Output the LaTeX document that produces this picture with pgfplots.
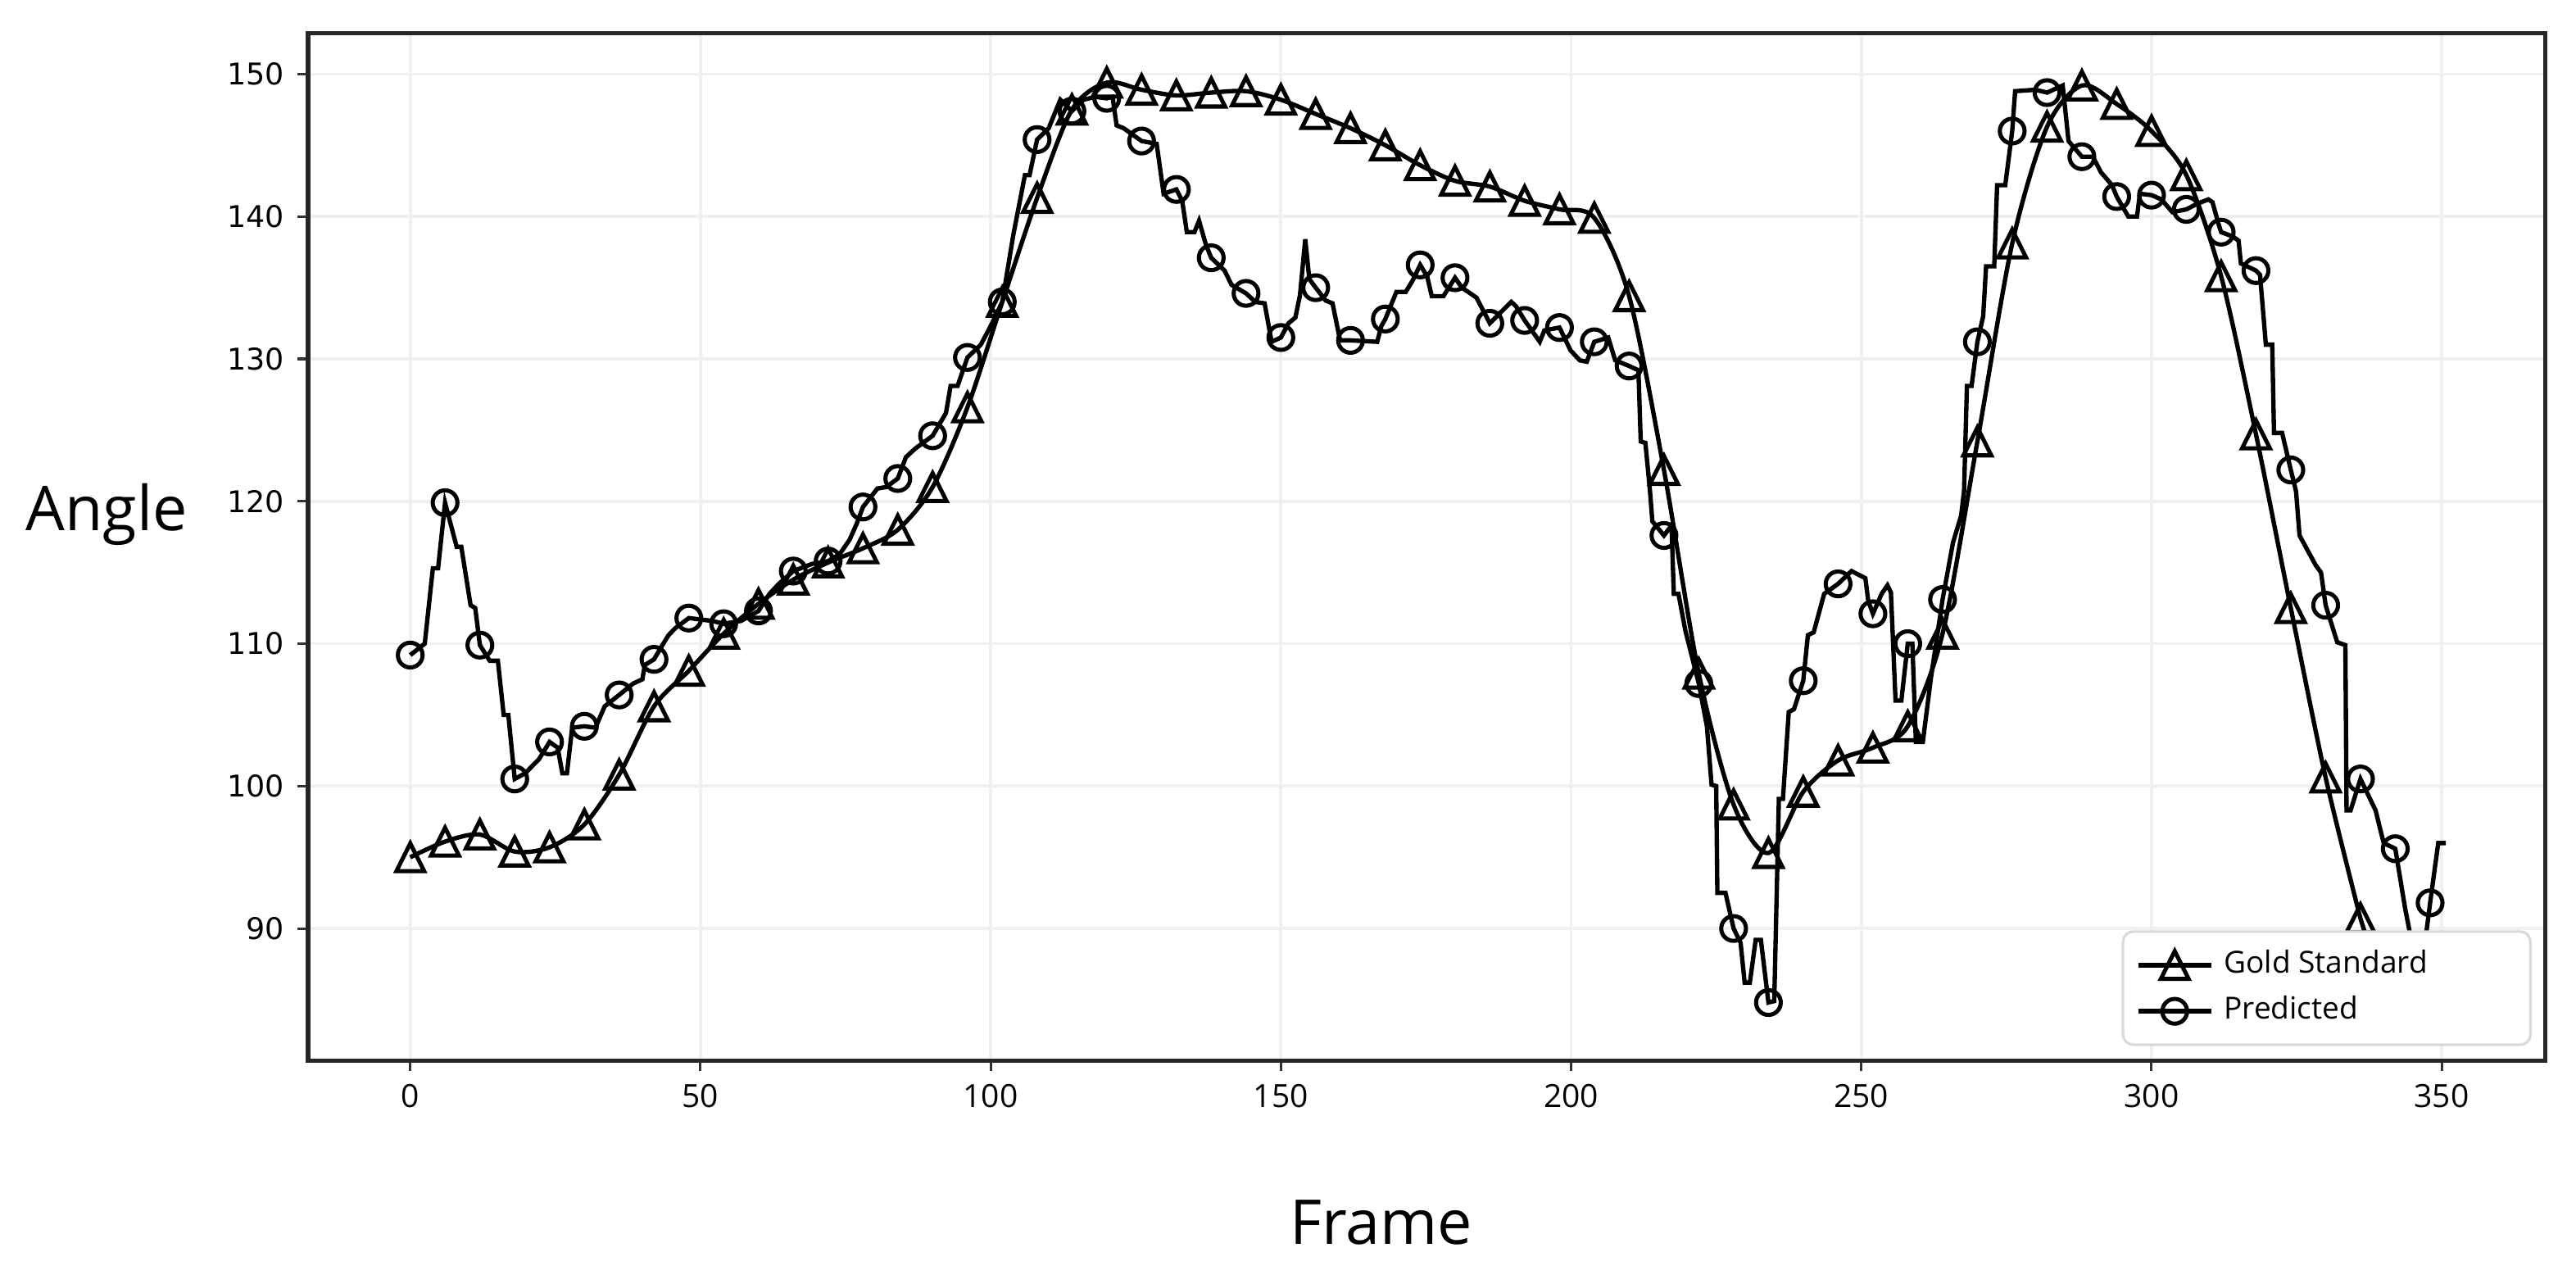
\documentclass[border=0pt]{standalone}
\usepackage{fontspec}
\setmainfont{Open Sans}
\newfontfamily\dejavu{DejaVu Sans}
\usepackage{pgfplots}
\usepackage{pgfplotstable}
\pgfplotsset{compat=1.18}
\pgfdeclareplotmark{mtri}{%
  \pgfpathmoveto{\pgfqpoint{0pt}{\pgfplotmarksize}}%
  \pgfpathlineto{\pgfqpoint{-\pgfplotmarksize}{-\pgfplotmarksize}}%
  \pgfpathlineto{\pgfqpoint{\pgfplotmarksize}{-\pgfplotmarksize}}%
  \pgfpathclose\pgfusepathqstroke}

\pgfplotstableread{
x y
0 95.0
6 96.1
12 96.6
18 95.4
24 95.7
30 97.3
36 100.8
42 105.6
48 108.1
54 110.7
60 112.8
66 114.5
72 115.7
78 116.7
84 118.0
90 121.0
96 126.6
102 134.0
108 141.3
114 147.5
120 149.4
126 148.9
132 148.5
138 148.7
144 148.8
150 148.2
156 147.2
162 146.2
168 145.0
174 143.6
180 142.5
186 142.1
192 141.1
198 140.5
204 139.9
210 134.4
216 122.2
222 107.9
228 98.7
234 95.3
240 99.6
246 101.8
252 102.7
258 104.2
264 110.7
270 124.2
276 138.1
282 146.3
288 149.2
294 147.9
300 146.0
306 142.9
312 135.8
318 124.7
324 112.5
330 100.6
336 90.7
}\gold

\pgfplotstableread{
x y
336 90.7
341 84.2
}\goldtail

\pgfplotstableread{
x y
0 109.2
6 119.9
12 109.9
18 100.5
24 103.1
30 104.2
36 106.4
42 108.9
48 111.8
54 111.4
60 112.3
66 115.1
72 115.8
78 119.6
84 121.6
90 124.6
96 130.1
102 134.0
108 145.4
114 147.4
120 148.3
126 145.3
132 141.9
138 137.1
144 134.6
150 131.5
156 135.0
162 131.3
168 132.8
174 136.6
180 135.7
186 132.5
192 132.7
198 132.2
204 131.2
210 129.5
216 117.6
222 107.2
228 90.0
234 84.8
240 107.4
246 114.2
252 112.1
258 110.0
264 113.1
270 131.2
276 146.0
282 148.7
288 144.2
294 141.4
300 141.5
306 140.5
312 138.9
318 136.2
324 122.2
330 112.7
336 100.5
342 95.6
348 91.8
}\predmarks

\pgfplotstableread{
x y
0 109.2
2.5 110.0
3.9 115.3
4.8 115.3
6 119.9
8 116.8
8.8 116.8
10.4 112.7
11.2 112.5
12 109.9
13.7 108.8
15.1 108.8
16.1 105.0
16.9 105.0
18 100.5
19.8 100.9
22.2 101.9
24 103.1
25.4 102.7
26.2 100.9
27 100.9
27.9 104.1
30 104.2
31.9 104.1
33.5 105.6
36 106.4
38.4 107.2
40 107.5
40.4 108.5
42 108.9
43.3 109.8
44.5 110.6
45.7 111.1
48 111.8
50 111.7
52 111.6
54 111.4
57 111.6
60 112.3
61.9 113.5
63.5 114.2
66 115.1
69.2 115.6
72 115.8
74 116.3
75.7 117.3
76.9 118.4
78 119.6
80.5 120.9
82 121.0
84 121.6
85.4 123.1
87 123.7
90 124.6
92.3 126.2
93.1 128.1
94.3 128.1
96 130.1
98.3 131.0
100 132.3
102 134.0
103.9 138.7
105.9 142.9
106.7 142.9
108 145.4
110 146.2
112 148.2
114 147.4
116 148.2
118 148.4
120 148.3
121 148.4
121.7 146.4
122.9 146.2
126 145.3
128.6 145.1
129.8 141.6
132 141.9
133 141.1
133.8 138.9
135.1 138.9
135.9 139.7
137.1 138.0
138 137.1
140.3 136.2
141.5 135.2
144 134.6
145.6 134.0
147.2 133.9
148.4 131.2
150 131.5
151.3 132.5
152.5 132.9
153.3 134.5
154.2 138.4
154.9 135.6
156 135.0
157.7 134.1
158.9 133.9
160.2 131.3
162 131.3
166.6 131.2
167.3 132.3
168 132.8
169.9 134.7
171.5 134.7
172.7 135.5
174 136.6
175.2 135.8
176 134.4
178 134.4
180 135.7
181.2 135.0
183.7 134.3
186 132.5
187.7 133.2
189.7 134.0
190.5 133.7
192 132.7
193.4 131.9
194.6 131.2
195.4 132.0
198 132.2
199.9 130.6
201.5 129.9
202.7 129.8
204 131.2
206.4 131.5
207.6 129.9
210 129.5
211.6 129.2
212 124.2
212.8 124.1
213.6 120.7
214 118.6
216 117.6
217.3 118.3
217.7 113.5
218.5 113.5
219.7 110.9
222 107.2
223.4 104.2
224.2 100.1
225 100.0
225.2 92.5
226.6 92.5
228 90.0
229.2 89.0
229.9 86.2
230.8 86.2
231.8 89.2
232.7 89.2
234 84.8
235 84.9
235.8 99.1
236.5 99.1
237.5 105.2
238.4 105.4
240 107.4
240.8 110.6
241.8 110.8
243.6 113.5
246 114.2
248.3 115.1
250.7 114.6
251.2 113.0
252 112.1
253.5 113.5
254.5 114.1
255.1 113.6
255.9 106.0
256.9 106.0
258 110.0
258.8 110.0
259.4 103.1
260.6 103.1
262 107.6
264 113.1
265.8 117.1
267.2 119.0
267.7 120.7
268.2 128.1
269 128.1
270 131.2
271 133.0
271.5 136.5
272.9 136.5
273.4 142.2
274.8 142.2
276 146.0
276.5 148.8
280 148.9
282 148.7
284.7 149.2
285.7 145.3
288 144.2
289.9 144.2
291.3 143.1
293.2 142.2
294 141.4
296 140.0
297.5 140.0
298 141.6
300 141.5
301.7 141.2
303.6 140.3
306 140.5
307.9 140.9
309.8 141.2
310.5 141.0
311.6 139.4
312 138.9
314 138.6
315 138.3
315.4 136.7
318 136.2
318.7 135.9
319.7 131.0
320.8 131.0
321.1 124.8
322.5 124.8
324 122.2
324.9 120.7
325.5 117.6
328.3 115.5
329.2 115.0
330 112.7
332 110.1
333.4 109.9
333.6 98.3
334.3 98.3
336 100.5
338.6 98.3
340 96.0
342 95.6
343.7 91.4
344.7 89.3
345.5 87.0
346.5 87.0
348 91.8
349.4 96.0
350.7 96.0
}\predline

\begin{document}
\begin{tikzpicture}
\path[use as bounding box] (-59.8pt,-41.4pt) rectangle (440.2pt,205.9pt);
\begin{axis}[
  scale only axis, width=434.3pt, height=199.4pt,
  xmin=-17.6, xmax=367.9, ymin=80.7, ymax=152.85,
  xtick={0,50,...,350}, ytick={90,100,...,150},
  tick align=outside, tick pos=left, major tick length=2pt,
  tick style={black!80, line width=0.5pt},
  axis line style={black!85, line width=0.8pt},
  grid=major, major grid style={black!6, line width=0.6pt},
  /pgf/number format/assume math mode=true,
  xticklabel style={font=\fontsize{6.2}{7}\selectfont, inner sep=2.4pt},
  yticklabel style={font=\dejavu\fontsize{5.8}{7}\selectfont, inner sep=2.4pt},
  xlabel={Frame}, ylabel={Angle},
  xlabel style={font=\fontsize{12}{14}\selectfont, at={(axis description cs:0.4796,-0.1575)}, anchor=center},
  ylabel style={font=\fontsize{12}{14}\selectfont, rotate=-90, at={(axis description cs:-0.090,0.5316)}, anchor=center},
  legend style={at={(axis description cs:0.9938,0.0145)}, anchor=south east,
    draw=black!15, line width=0.5pt, rounded corners=2pt, fill=white,
    font=\fontsize{5.9}{7}\selectfont, inner xsep=2.5pt, inner ysep=1.5pt,
    row sep=-1pt, column sep=0pt},
  legend cell align=left,
  legend image code/.code={\draw[mark repeat=2,mark phase=2,#1] plot coordinates {(0pt,0pt) (7.1pt,0pt) (14.2pt,0pt)};},
]
\addplot[black, line width=0.85pt, smooth, tension=0.5, no marks, forget plot] table {\gold};
\addplot[black, line width=0.85pt, no marks, forget plot] table {\goldtail};
\addplot[black, only marks, mark=mtri, mark size=2.7pt, mark options={line width=0.8pt}, forget plot] table {\gold};
\addplot[black, line width=0.85pt, no marks, forget plot] table {\predline};
\addplot[black, only marks, mark=o, mark size=2.4pt, mark options={line width=0.8pt}, forget plot] table {\predmarks};
\addlegendimage{black, line width=0.9pt, mark=mtri, mark size=2.7pt, mark options={line width=0.8pt}}
\addlegendentry{\makebox[55pt][l]{Gold Standard}}
\addlegendimage{black, line width=0.9pt, mark=o, mark size=2.4pt, mark options={line width=0.8pt}}
\addlegendentry{\makebox[55pt][l]{Predicted}}
\end{axis}
\end{tikzpicture}
\end{document}
